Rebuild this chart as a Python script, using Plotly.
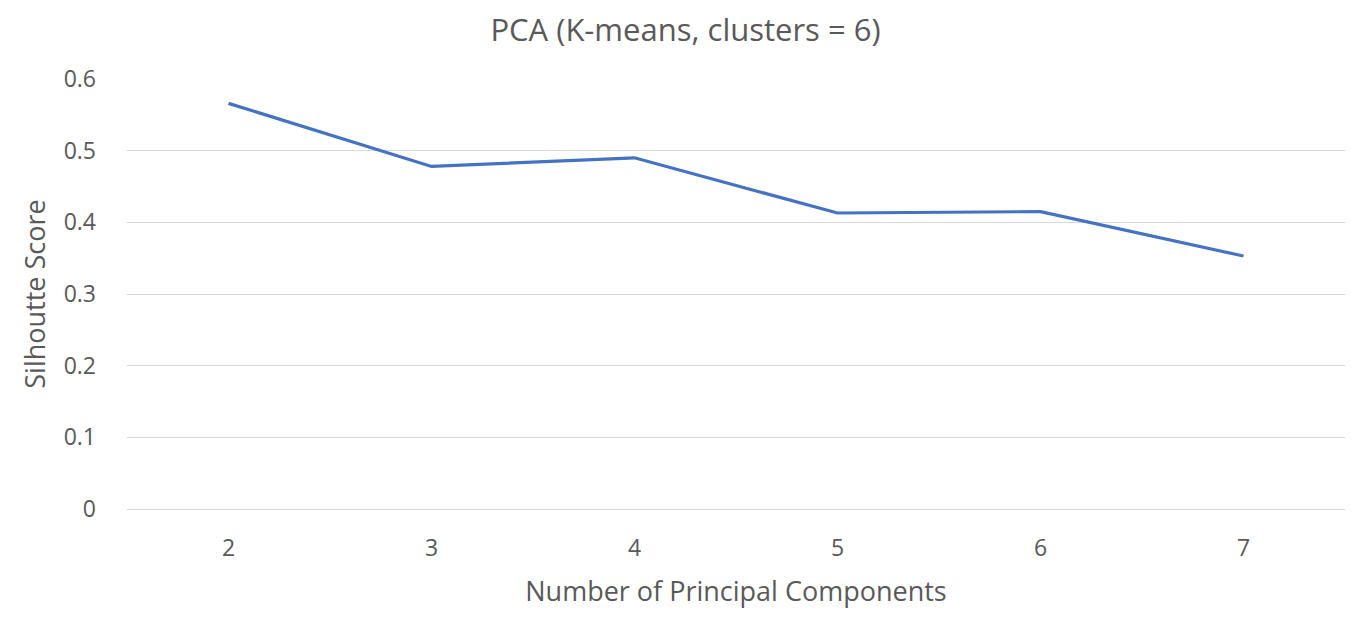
import plotly.graph_objects as go

components = ["2", "3", "4", "5", "6", "7"]
silhouette = [0.566, 0.478, 0.490, 0.413, 0.415, 0.353]
y_ticks = [0, 0.1, 0.2, 0.3, 0.4, 0.5, 0.6]
y_tick_labels = ["0", "0.1", "0.2", "0.3", "0.4", "0.5", "0.6"]

grey = "#595959"
font_family = "Open Sans, Liberation Sans, sans-serif"

# page body adds an 8px offset; figure sized to fill the remaining window
W, H = 1355, 615

fig = go.Figure(go.Scatter(
    x=components, y=silhouette, mode="lines",
    line=dict(color="#4472C4", width=3.2),
    showlegend=False, hoverinfo="x+y",
))

fig.update_layout(
    width=W, height=H,
    margin=dict(l=119, r=18, t=71, b=114),
    paper_bgcolor="white", plot_bgcolor="white",
    title=dict(text="PCA (K-means, clusters = 6)", x=0.5, xanchor="center",
               y=1 - 22 / H, yanchor="middle",
               font=dict(family=font_family, size=31, color=grey)),
    font=dict(family=font_family, color=grey),
)

fig.update_xaxes(
    type="category", range=[-0.5, 5.5],
    showgrid=False, showline=True, linecolor="#d9d9d9", linewidth=1,
    ticks="", tickfont=dict(size=23, color=grey), ticklabelstandoff=18,
    title=dict(text="Number of Principal Components", font=dict(size=27, color=grey), standoff=20),
)
fig.update_yaxes(
    range=[0, 0.6], tickvals=y_ticks, ticktext=y_tick_labels,
    showgrid=True, gridcolor="#d9d9d9", gridwidth=1,
    zeroline=False, showline=False, ticks="",
    tickfont=dict(size=23, color=grey), ticklabelstandoff=30,
    title=dict(text="Silhoutte Score", font=dict(size=27, color=grey), standoff=10),
)

fig.write_html("out.html")
